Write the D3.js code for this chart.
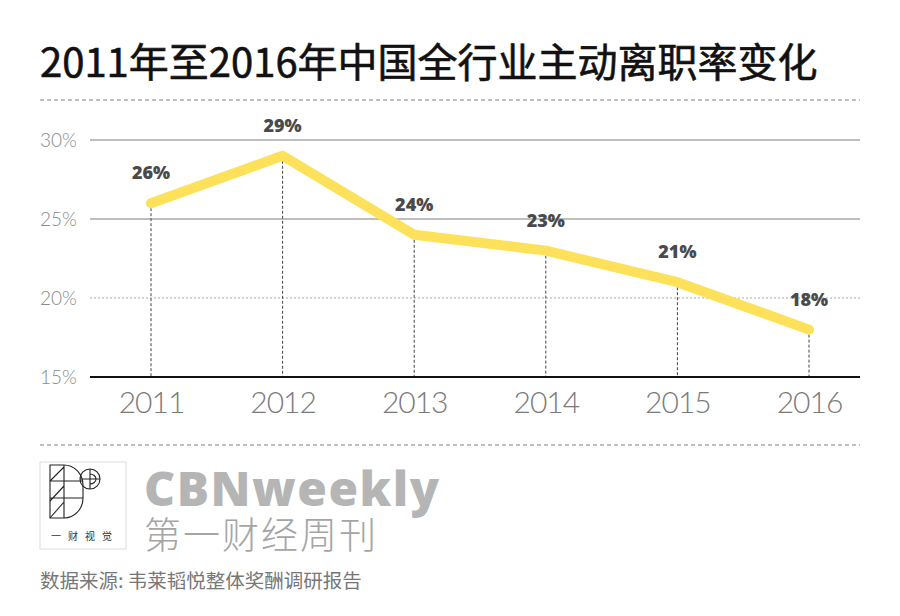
<!DOCTYPE html>
<html>
<head>
<meta charset="utf-8">
<script src="https://cdn.jsdelivr.net/npm/d3@7"></script>
<style>
  body { margin: 0; background: #fff; }
  svg { display: block; }
</style>
</head>
<body>
<div id="chart"></div>
<script>
const years = ["2011", "2012", "2013", "2014", "2015", "2016"];
const rates = [26, 29, 24, 23, 21, 18];
const yTicks = [15, 20, 25, 30];
const title = "2011年至2016年中国全行业主动离职率变化";
const source = "数据来源: 韦莱韬悦整体奖酬调研报告";

const width = 900, height = 616;
const cjk = "'Noto Sans CJK SC', 'Noto Sans', sans-serif";
const thin = "Lato, 'Open Sans', sans-serif";

const svg = d3.select("#chart").append("svg")
    .attr("width", width)
    .attr("height", height);

// title
svg.append("text")
    .attr("x", 40)
    .attr("y", 77)
    .style("font-family", cjk)
    .style("font-size", "40px")
    .style("font-weight", 400)
    .attr("fill", "#111")
    .attr("stroke", "#111")
    .attr("stroke-width", 0.6)
    .text(title);

// dashed separators
[100, 445].forEach(yy => {
    svg.append("line")
        .attr("x1", 40).attr("x2", 860)
        .attr("y1", yy).attr("y2", yy)
        .attr("stroke", "#aaa")
        .attr("stroke-width", 1.3)
        .attr("stroke-dasharray", "4,3");
});

const x = d3.scalePoint()
    .domain(years)
    .range([151, 809]);

const y = d3.scaleLinear()
    .domain([15, 30])
    .range([377, 140]);

// gridlines
svg.append("g")
    .selectAll("line")
    .data(yTicks.filter(d => d !== 15))
    .join("line")
    .attr("x1", 90).attr("x2", 860)
    .attr("y1", d => y(d)).attr("y2", d => y(d))
    .attr("stroke", "#a8a8a8")
    .attr("stroke-width", d => d === 20 ? 1.2 : 1.6)
    .attr("stroke-dasharray", d => d === 20 ? "2,2" : null);

// y axis labels
const yAxis = d3.axisLeft(y).tickValues(yTicks).tickFormat(d => d + "%").tickSize(0);
svg.append("g")
    .attr("transform", "translate(40,0)")
    .call(yAxis)
    .call(g => g.select(".domain").remove())
    .selectAll("text")
    .attr("text-anchor", "start")
    .attr("x", 0)
    .attr("dy", "0.35em")
    .style("font-family", thin)
    .style("font-weight", 300)
    .style("font-size", "19px")
    .attr("fill", "#8a8a8a");

// drop lines
svg.append("g")
    .selectAll("line")
    .data(years)
    .join("line")
    .attr("x1", d => x(d)).attr("x2", d => x(d))
    .attr("y1", (d, i) => y(rates[i])).attr("y2", y(15))
    .attr("stroke", "#444")
    .attr("stroke-width", 1)
    .attr("stroke-dasharray", "3,2");

// x axis
const xAxis = d3.axisBottom(x).tickSize(0).tickPadding(15);
svg.append("g")
    .attr("transform", `translate(0,${y(15)})`)
    .call(xAxis)
    .call(g => g.select(".domain").remove())
    .selectAll("text")
    .style("font-family", thin)
    .style("font-weight", 300)
    .style("font-size", "30px")
    .attr("letter-spacing", "-1px")
    .attr("fill", "#7a7a7a");

svg.append("line")
    .attr("x1", 90).attr("x2", 860)
    .attr("y1", y(15)).attr("y2", y(15))
    .attr("stroke", "#111")
    .attr("stroke-width", 2.2);

// line
const line = d3.line()
    .x((d, i) => x(years[i]))
    .y(d => y(d));

svg.append("path")
    .datum(rates)
    .attr("d", line)
    .attr("fill", "none")
    .attr("stroke", "#fde15a")
    .attr("stroke-width", 10)
    .attr("stroke-linejoin", "round")
    .attr("stroke-linecap", "round");

// value labels
svg.append("g")
    .selectAll("text")
    .data(rates)
    .join("text")
    .attr("x", (d, i) => x(years[i]))
    .attr("y", d => y(d) - 24)
    .attr("text-anchor", "middle")
    .style("font-family", "'Open Sans', Lato, sans-serif")
    .style("font-weight", 800)
    .style("font-size", "18px")
    .attr("fill", "#4a4a4a")
    .text(d => d + "%");

// logo box
const logo = svg.append("g").attr("transform", "translate(40,462)");
logo.append("rect")
    .attr("width", 86).attr("height", 87)
    .attr("fill", "none")
    .attr("stroke", "#ddd");
const lg = logo.append("g").attr("fill", "none").attr("stroke", "#222").attr("stroke-width", 1.1);
lg.append("path").attr("d", "M10,0 H24 A19,20 0 0 1 43,20 V33 A19,20 0 0 1 24,53 H10 Z").attr("transform", "translate(0,3)");
lg.append("path").attr("d", "M10,19 H43 M10,36 H43 M24,3 V56 M10,19 L24,5 M10,39 L24,24 M10,56 L24,40");
lg.append("circle").attr("cx", 50).attr("cy", 17).attr("r", 10);
lg.append("path").attr("d", "M40,17 H60 M50,7 V27 M50,12 A6,5 0 0 1 50,22");
logo.append("text")
    .attr("x", 45).attr("y", 78)
    .attr("text-anchor", "middle")
    .style("font-family", cjk)
    .style("font-size", "10px")
    .attr("fill", "#333")
    .attr("letter-spacing", "7px")
    .text("一财视觉");

// brand text
svg.append("text")
    .attr("x", 144).attr("y", 506)
    .style("font-family", "'Open Sans', Lato, sans-serif")
    .style("font-weight", 800)
    .style("font-size", "48px")
    .attr("letter-spacing", "1.5px")
    .attr("fill", "#b5b5b5")
    .text("CBNweekly");
svg.append("text")
    .attr("x", 144).attr("y", 549)
    .style("font-family", cjk)
    .style("font-size", "37px")
    .style("font-weight", 300)
    .attr("letter-spacing", "2px")
    .attr("fill", "#a5a5a5")
    .text("第一财经周刊");

// source
svg.append("text")
    .attr("x", 40).attr("y", 588)
    .style("font-family", cjk)
    .style("font-size", "19.5px")
    .attr("fill", "#777")
    .text(source);
</script>
</body>
</html>
